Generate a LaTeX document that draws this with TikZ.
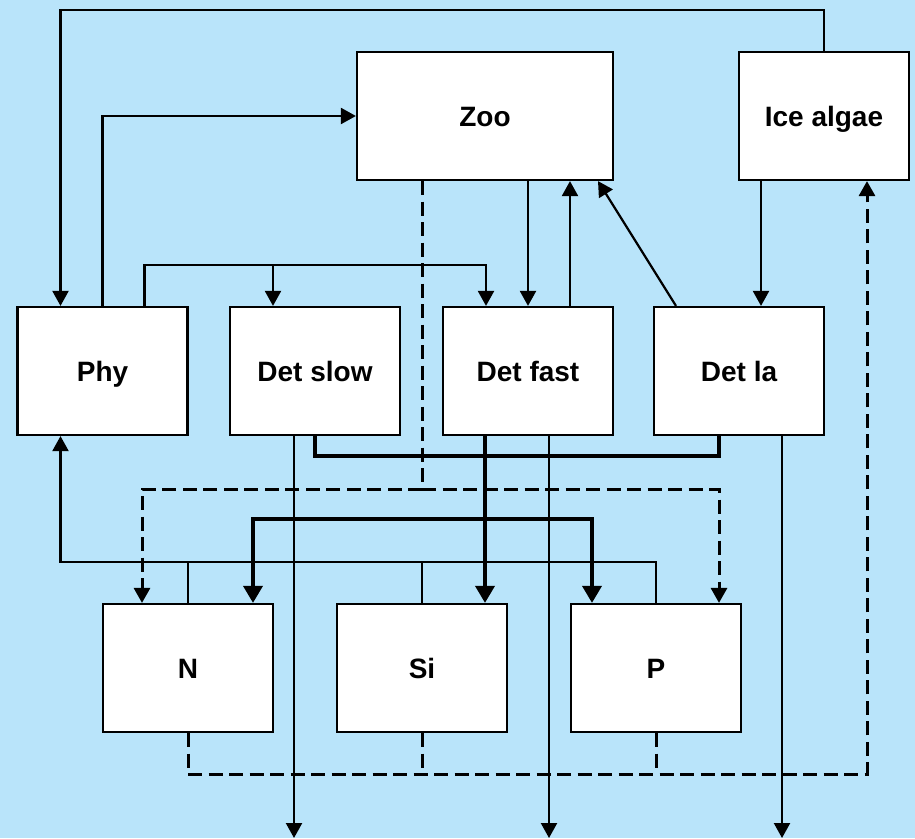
\documentclass[tikz,border=0pt]{standalone}
\usepackage{fontspec}
\setmainfont{Liberation Sans}
\usetikzlibrary{arrows.meta}
\definecolor{skybg}{RGB}{185,228,250}
\begin{document}
\begin{tikzpicture}[x=1pt,y=-1pt,
  box/.style={draw=black, line width=2.2pt, fill=white, minimum width=170pt, minimum height=128pt,
    inner sep=0pt, text height=20pt, text depth=0pt,
    font=\fontsize{28}{31}\selectfont\bfseries},
  thin/.style={line width=2.2pt},
  arr/.style={thin, -{Triangle[length=15pt,width=16pt]}},
  dsh/.style={line width=3pt, dash pattern=on 14pt off 6.5pt},
  dsharr/.style={dsh, -{Triangle[length=15pt,width=16pt]}},
  heavy/.style={line width=3.6pt},
  heavyarr/.style={heavy, -{Triangle[length=17pt,width=19pt]}}]
\useasboundingbox (0,0) rectangle (915,838);
\fill[skybg] (0,0) rectangle (915,838);

% compartments
\node[box, minimum width=256pt] (zoo) at (485,116) {Zoo};
\node[box] (ice) at (824,116) {Ice algae};
\node[box] (phy) at (102.5,371) {Phy};
\node[box] (dslow) at (315,371) {Det slow};
\node[box] (dfast) at (528,371) {Det fast};
\node[box] (dla) at (739,371) {Det la};
\node[box] (N) at (188,668) {N};
\node[box] (Si) at (422,668) {Si};
\node[box] (P) at (656,668) {P};

% routing levels
\coordinate (ytop) at (0,10);
\coordinate (yphy) at (0,265);
\coordinate (yheavyA) at (0,456);
\coordinate (ydash) at (0,489);
\coordinate (yheavyB) at (0,519);
\coordinate (ythin) at (0,562);
\coordinate (ybot) at (0,774);
\coordinate (yend) at (0,838);

% ice algae -> phy
\draw[arr] (ice.north) -- (ice.north |- ytop) -| ([xshift=-42pt]phy.north);
% phy -> zoo
\draw[arr] (phy.north) |- (zoo.west);
% phy -> det slow, det fast
\coordinate (dfa) at ([xshift=-42pt]dfast.north);
\coordinate (dsa) at ([xshift=-42pt]dslow.north);
\draw[arr] ([xshift=42pt]phy.north) |- (yphy -| dfa) -- (dfa);
\draw[arr] (yphy -| dsa) -- (dsa);
% zoo <-> det fast
\draw[arr] (zoo.south -| dfast.north) -- (dfast.north);
\coordinate (dfb) at ([xshift=42pt]dfast.north);
\draw[arr] (dfb) -- (dfb |- zoo.south);
% det la -> zoo
\draw[arr] ([xshift=-63pt]dla.north) -- ([xshift=113pt]zoo.south);
% ice algae -> det la
\coordinate (ib) at ([xshift=-63pt]ice.south);
\draw[arr] (ib) -- (ib |- dla.north);

% zoo -> N, P (dashed)
\coordinate (zd) at ([xshift=-63pt]zoo.south);
\coordinate (na) at ([xshift=-46pt]N.north);
\coordinate (pa) at ([xshift=63pt]P.north);
\draw[dsh] (zd) -- (zd |- ydash);
\draw[dsharr] (zd |- ydash) -| (na);
\draw[dsharr] (zd |- ydash) -| (pa);

% detritus remineralisation (heavy)
\coordinate (dlb) at ([xshift=-20pt]dla.south);
\draw[heavy] (dslow.south) |- (yheavyA -| dlb) -- (dlb);
\coordinate (dfs) at ([xshift=-43pt]dfast.south);
\coordinate (na2) at ([xshift=65pt]N.north);
\coordinate (pa2) at ([xshift=-64pt]P.north);
\draw[heavyarr] (dfs) -- (dfs |- Si.north);
\draw[heavyarr] (dfs |- yheavyB) -| (na2);
\draw[heavyarr] (dfs |- yheavyB) -| (pa2);

% nutrient uptake by phy
\coordinate (phs) at ([xshift=-42pt]phy.south);
\draw[arr] (P.north) |- (ythin -| phs) -- (phs);
\draw[thin] (N.north) -- (N.north |- ythin);
\draw[thin] (Si.north) -- (Si.north |- ythin);

% sinking export
\coordinate (s1) at ([xshift=-21pt]dslow.south);
\coordinate (s2) at ([xshift=21pt]dfast.south);
\coordinate (s3) at ([xshift=43pt]dla.south);
\draw[arr] (s1) -- (s1 |- yend);
\draw[arr] (s2) -- (s2 |- yend);
\draw[arr] (s3) -- (s3 |- yend);

% nutrients -> ice algae (dashed)
\coordinate (ia) at ([xshift=43pt]ice.south);
\draw[dsharr] (N.south) |- (ybot -| ia) -- (ia);
\draw[dsh] (Si.south) -- (Si.south |- ybot);
\draw[dsh] (P.south) -- (P.south |- ybot);
\end{tikzpicture}
\end{document}
